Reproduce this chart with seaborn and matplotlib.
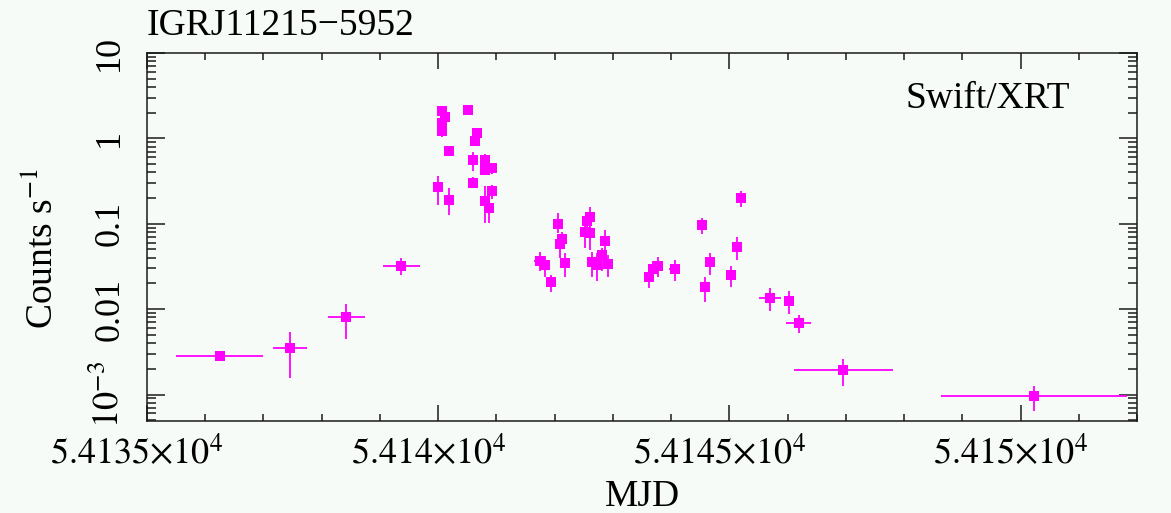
import numpy as np
import pandas as pd
import matplotlib
matplotlib.use("Agg")
import matplotlib.pyplot as plt
import matplotlib.transforms as mtransforms
import seaborn as sns
from matplotlib.ticker import FixedLocator, FixedFormatter, LogLocator, MultipleLocator, NullFormatter

# ---------------- data ----------------
mjd = [54136.25, 54137.46, 54138.42, 54139.37,
       54140.00, 54140.06, 54140.12, 54140.06, 54140.07, 54140.19, 54140.19,
       54140.52, 54140.66, 54140.64, 54140.59, 54140.59, 54140.80, 54140.80,
       54140.92, 54140.80, 54140.87, 54140.93,
       54141.74, 54141.83, 54141.93, 54142.06, 54142.13, 54142.09, 54142.17,
       54142.56, 54142.60, 54142.52, 54142.60, 54142.64, 54142.72, 54142.86,
       54142.82, 54142.92,
       54143.62, 54143.69, 54143.77, 54144.06, 54144.53, 54144.66, 54144.59,
       54145.03, 54145.13, 54145.20, 54145.70, 54146.03, 54146.19,
       54146.96, 54150.23]
mjd_err = [0.75, 0.29, 0.32, 0.32,
           0.03, 0.03, 0.03, 0.03, 0.03, 0.03, 0.03,
           0.03, 0.03, 0.03, 0.03, 0.03, 0.03, 0.03,
           0.03, 0.03, 0.03, 0.03,
           0.09, 0.03, 0.03, 0.03, 0.03, 0.03, 0.03,
           0.03, 0.03, 0.03, 0.03, 0.03, 0.03, 0.03,
           0.03, 0.03,
           0.03, 0.03, 0.03, 0.09, 0.03, 0.03, 0.03,
           0.03, 0.03, 0.03, 0.19, 0.03, 0.22,
           0.845, 1.6]
rate = [2.86e-3, 3.5e-3, 8.0e-3, 0.032,
        0.266, 2.11, 1.77, 1.51, 1.23, 0.714, 0.192,
        2.15, 1.15, 0.935, 0.556, 0.304, 0.565, 0.431,
        0.444, 0.184, 0.154, 0.243,
        0.0369, 0.0331, 0.0206, 0.099, 0.067, 0.058, 0.035,
        0.109, 0.119, 0.080, 0.078, 0.036, 0.033, 0.063,
        0.0426, 0.0338,
        0.0236, 0.0295, 0.0323, 0.0295, 0.0955, 0.0356, 0.0183,
        0.0251, 0.0528, 0.198, 0.0136, 0.0123, 6.8e-3,
        1.92e-3, 9.7e-4]
rate_lo = [2.6e-3, 1.57e-3, 4.5e-3, 0.0253,
           0.167, 1.9, 1.5, 1.3, 1.05, 0.63, 0.127,
           1.95, 1.0, 0.82, 0.42, 0.26, 0.48, 0.37,
           0.38, 0.102, 0.103, 0.195,
           0.0277, 0.024, 0.0157, 0.078, 0.055, 0.0398, 0.024,
           0.09, 0.1, 0.052, 0.049, 0.024, 0.0212, 0.047,
           0.0277, 0.024,
           0.0177, 0.024, 0.024, 0.0212, 0.075, 0.0253, 0.0121,
           0.0184, 0.0377, 0.156, 0.0094, 0.0088, 5.2e-3,
           1.25e-3, 6.5e-4]
rate_hi = [3.1e-3, 5.46e-3, 0.0116, 0.0397,
           0.364, 2.3, 2.0, 1.7, 1.4, 0.818, 0.259,
           2.35, 1.3, 1.05, 0.69, 0.35, 0.65, 0.5,
           0.51, 0.28, 0.21, 0.285,
           0.047, 0.0418, 0.0253, 0.133, 0.08, 0.07, 0.045,
           0.13, 0.157, 0.1, 0.095, 0.047, 0.0455, 0.085,
           0.052, 0.0434,
           0.03, 0.037, 0.041, 0.0377, 0.117, 0.046, 0.0237,
           0.0323, 0.070, 0.243, 0.0178, 0.0161, 8.6e-3,
           2.6e-3, 1.27e-3]

xtick_values = [54135, 54140, 54145, 54150]
xtick_labels = [r"$5.4135{\times}10^{4}$", r"$5.414{\times}10^{4}$",
                r"$5.4145{\times}10^{4}$", r"$5.415{\times}10^{4}$"]
ytick_values = [1e-3, 1e-2, 1e-1, 1, 10]
ytick_labels = [r"$10^{-3}$", "0.01", "0.1", "1", "10"]

title_text = "IGRJ11215\u22125952"
instrument_text = "Swift/XRT"
xlabel_text = "MJD"
ylabel_text = r"Counts s$^{-1}$"

# ---------------- style ----------------
bg = "#f6fbf7"
mag = "#ff00ff"
ink = "#1a1a1a"
sns.set_style("ticks")
plt.rcParams["font.family"] = ["Liberation Serif", "DejaVu Serif"]
plt.rcParams["mathtext.fontset"] = "stix"
plt.rcParams["figure.facecolor"] = bg
plt.rcParams["axes.facecolor"] = bg
plt.rcParams["text.color"] = "black"
plt.rcParams["axes.labelcolor"] = "black"

df = pd.DataFrame({"mjd": mjd, "rate": rate})
yerr = np.array([np.array(rate) - np.array(rate_lo), np.array(rate_hi) - np.array(rate)])

fig = plt.figure(figsize=(11.71, 5.13), dpi=100)
ax = fig.add_axes([147 / 1171, 1 - 421 / 513, 990 / 1171, 368 / 513])
ax.set_yscale("log")

ax.errorbar(mjd, rate, xerr=mjd_err, yerr=yerr, fmt="none", ecolor=mag,
            elinewidth=1.3, capsize=0, zorder=2)
sns.scatterplot(data=df, x="mjd", y="rate", marker="s", color=mag, s=45,
                linewidth=0, ax=ax, zorder=3, legend=False)

ax.set_xlim(54135, 54152)
ax.set_ylim(4.9e-4, 10)

ax.xaxis.set_major_locator(FixedLocator(xtick_values))
ax.xaxis.set_major_formatter(FixedFormatter(xtick_labels))
ax.xaxis.set_minor_locator(MultipleLocator(1))
ax.yaxis.set_major_locator(FixedLocator(ytick_values))
ax.yaxis.set_major_formatter(FixedFormatter(ytick_labels))
ax.yaxis.set_minor_locator(LogLocator(base=10, subs=np.arange(2, 10), numticks=20))
ax.yaxis.set_minor_formatter(NullFormatter())

for s in ax.spines.values():
    s.set_color(ink)
    s.set_linewidth(1.1)

ax.tick_params(axis="both", which="both", direction="in", top=True, right=True,
               color=ink, width=1.1, labelcolor="black")
ax.tick_params(axis="x", which="major", length=11.5, labelsize=26, pad=11)
ax.tick_params(axis="x", which="minor", length=5)
ax.tick_params(axis="y", which="major", length=13, labelsize=26, pad=15, labelrotation=90)
ax.tick_params(axis="y", which="minor", length=6.5)
plt.setp(ax.get_yticklabels(), va="center")

# the reference centres the x tick labels slightly left of the ticks
shift = mtransforms.ScaledTranslation(-10 / 100, 0, fig.dpi_scale_trans)
for lab in ax.get_xticklabels():
    lab.set_transform(lab.get_transform() + shift)

ax.set_xlabel(xlabel_text, fontsize=27)
ax.xaxis.set_label_coords(0.5, -0.16)
ax.set_ylabel(ylabel_text, fontsize=27)
ax.yaxis.set_label_coords(-0.087, 0.47)

ax.text(0.0, 1.049, title_text, transform=ax.transAxes, ha="left", va="baseline",
        fontsize=27)
ax.text(0.932, 0.851, instrument_text, transform=ax.transAxes, ha="right",
        va="baseline", fontsize=27)

fig.savefig("out.png", dpi=100, facecolor=bg)
